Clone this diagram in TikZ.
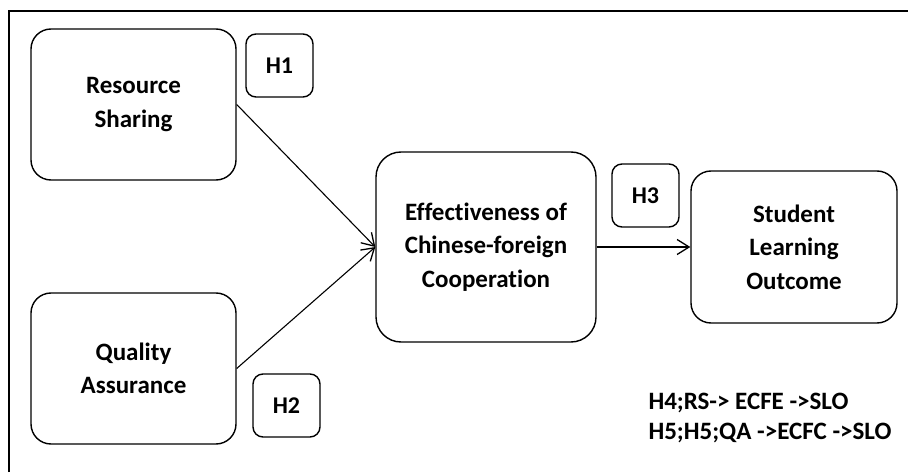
\documentclass[tikz,border=0pt]{standalone}
\usepackage{fontspec}
\setmainfont[Ligatures={NoCommon}]{Carlito}
\usetikzlibrary{arrows.meta,positioning}
\tikzset{
  >={Straight Barb[length=12pt,width=15pt,line width=1.3pt]},
  concept/.style={draw,line width=1.4pt,rounded corners=20pt,align=center,
    font=\fontsize{25}{33.5}\selectfont\bfseries,inner sep=0pt},
  hyp/.style={draw,line width=1.4pt,rounded corners=10pt,minimum width=67pt,minimum height=63pt,
    font=\fontsize{24}{28}\selectfont\bfseries,inner sep=0pt},
  link/.style={->,line width=1.1pt},
  note/.style={anchor=west,font=\fontsize{25}{30}\selectfont\bfseries},
}
\begin{document}
\begin{tikzpicture}[x=1pt,y=1pt]
\useasboundingbox (0,0) rectangle (908,472);
% frame
\draw[line width=1.6pt] (9,0) -- (9,461) -- (908,461);
% constructs
\node[concept,minimum width=205pt,minimum height=151pt] (rs) at (133.5,367.5) {Resource\\Sharing};
\node[concept,minimum width=205pt,minimum height=151pt] (qa) at (133.5,103.5) {Quality\\Assurance};
\node[concept,minimum width=220pt,minimum height=190pt,rounded corners=25pt] (ecfc) at (486,225) {Effectiveness of\\Chinese-foreign\\Cooperation};
\node[concept,minimum width=206pt,minimum height=152pt] (slo) at (794,225) {Student\\Learning\\Outcome};
% hypotheses
\node[hyp] (h1) at (279.5,406.5) {H1};
\node[hyp] (h2) at (286.5,66.5) {H2};
\node[hyp] (h3) at (645.5,276.5) {H3};
% paths
\draw[link] (rs.east) -- (ecfc.west);
\draw[link] (qa.east) -- (ecfc.west);
\draw[link] (ecfc.east) -- (slo.west);
% mediation
\node[note] (h4) at (645,69) {H4;RS-> ECFE ->SLO};
\node[note] (h5) at (645,39) {H5;H5;QA ->ECFC ->SLO};
\end{tikzpicture}
\end{document}
